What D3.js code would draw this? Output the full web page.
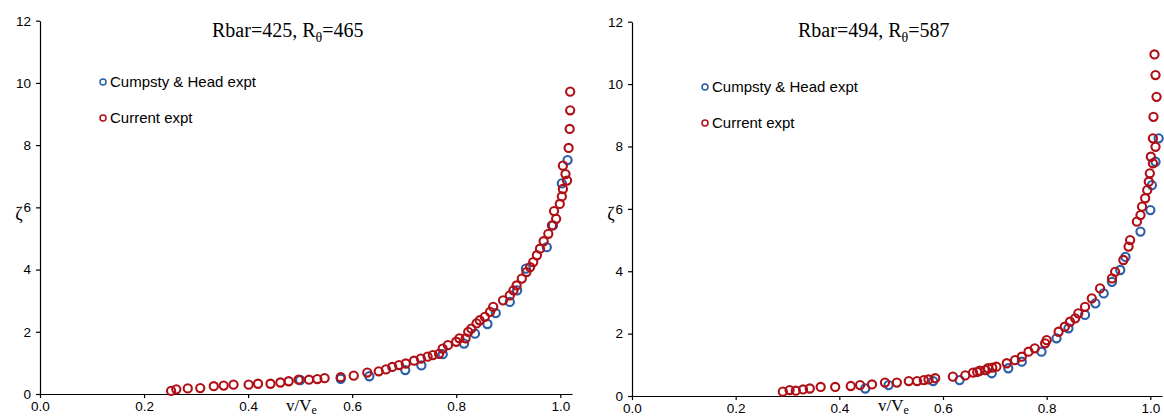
<!DOCTYPE html>
<html>
<head>
<meta charset="utf-8">
<script src="https://d3js.org/d3.v7.min.js"></script>
<style>
  body { margin: 0; background: #fff; }
  .tick text { font-family: Arial, "Liberation Sans", sans-serif; font-size: 13.5px; fill: #000; }
  .legend { font-family: Arial, "Liberation Sans", sans-serif; font-size: 15px; fill: #000; }
  .serif { font-family: "Times New Roman", "Liberation Serif", serif; fill: #000; }
</style>
</head>
<body>
<svg id="chart" width="1164" height="418"></svg>
<script>
  // x ticks / y ticks shared by both panels
  const xTicks = [0, 0.2, 0.4, 0.6, 0.8, 1.0];
  const yTicks = [0, 2, 4, 6, 8, 10, 12];
  const seriesNames = ["Cumpsty & Head expt", "Current expt"];

  // left panel: Rbar=425, Rθ=465
  const leftBlueV = [0.5, 0.578, 0.633, 0.702, 0.733, 0.774, 0.815, 0.836, 0.86, 0.876, 0.903, 0.917, 0.934, 0.974, 0.986, 1.003, 1.014];
  const leftBlueZ = [0.45, 0.49, 0.57, 0.77, 0.92, 1.28, 1.62, 1.94, 2.25, 2.6, 2.96, 3.33, 4.03, 4.72, 5.42, 6.77, 7.52];
  const leftRedV = [0.252, 0.262, 0.284, 0.308, 0.334, 0.353, 0.372, 0.401, 0.419, 0.443, 0.462, 0.478, 0.497, 0.517, 0.533, 0.547, 0.578, 0.603, 0.629, 0.651, 0.665, 0.677, 0.69, 0.703, 0.719, 0.732, 0.745, 0.755, 0.767, 0.774, 0.784, 0.8, 0.806, 0.818, 0.823, 0.829, 0.839, 0.845, 0.855, 0.865, 0.871, 0.89, 0.903, 0.91, 0.916, 0.926, 0.935, 0.942, 0.948, 0.955, 0.961, 0.968, 0.977, 0.984, 0.992, 0.988, 0.999, 1.003, 1.005, 1.013, 1.01, 1.005, 1.016, 1.018, 1.019, 1.019];
  const leftRedZ = [0.1, 0.15, 0.18, 0.19, 0.25, 0.27, 0.3, 0.3, 0.33, 0.33, 0.37, 0.41, 0.46, 0.46, 0.48, 0.51, 0.54, 0.59, 0.69, 0.73, 0.79, 0.87, 0.93, 0.98, 1.07, 1.14, 1.2, 1.25, 1.29, 1.46, 1.57, 1.68, 1.79, 1.79, 2.0, 2.1, 2.27, 2.37, 2.48, 2.64, 2.8, 3.01, 3.17, 3.33, 3.49, 3.71, 3.92, 4.08, 4.24, 4.46, 4.67, 4.91, 5.15, 5.42, 5.63, 5.88, 6.11, 6.35, 6.59, 6.86, 7.07, 7.34, 7.91, 8.52, 9.12, 9.72];

  // right panel: Rbar=494, Rθ=587
  const rightBlueV = [0.45, 0.495, 0.581, 0.632, 0.694, 0.726, 0.752, 0.79, 0.819, 0.842, 0.874, 0.894, 0.91, 0.926, 0.942, 0.952, 0.981, 1.0, 1.003, 1.01, 1.016];
  const rightBlueZ = [0.24, 0.35, 0.48, 0.51, 0.73, 0.89, 1.1, 1.42, 1.85, 2.17, 2.6, 2.97, 3.29, 3.66, 4.04, 4.46, 5.27, 5.96, 6.76, 7.51, 8.26];
  const rightRedV = [0.291, 0.304, 0.316, 0.33, 0.343, 0.364, 0.392, 0.422, 0.44, 0.463, 0.488, 0.511, 0.534, 0.55, 0.563, 0.572, 0.585, 0.619, 0.643, 0.658, 0.666, 0.671, 0.682, 0.687, 0.695, 0.703, 0.723, 0.739, 0.752, 0.765, 0.777, 0.797, 0.8, 0.823, 0.835, 0.845, 0.855, 0.861, 0.874, 0.887, 0.903, 0.926, 0.932, 0.948, 0.958, 0.961, 0.974, 0.981, 0.984, 0.99, 0.994, 0.997, 0.999, 1.005, 1.001, 1.01, 1.005, 1.006, 1.012, 1.01, 1.008];
  const rightRedZ = [0.14, 0.19, 0.17, 0.21, 0.24, 0.29, 0.29, 0.32, 0.35, 0.37, 0.43, 0.43, 0.48, 0.48, 0.51, 0.53, 0.57, 0.62, 0.66, 0.75, 0.77, 0.81, 0.83, 0.89, 0.91, 0.94, 1.05, 1.15, 1.26, 1.42, 1.53, 1.69, 1.79, 2.06, 2.22, 2.38, 2.49, 2.65, 2.86, 3.13, 3.45, 3.77, 3.98, 4.36, 4.79, 5.0, 5.59, 5.8, 6.07, 6.34, 6.6, 6.87, 7.14, 7.46, 7.67, 7.99, 8.26, 8.95, 9.59, 10.29, 10.95];

  const blue = "#2a5ea8";
  const red = "#b00f16";

  const svg = d3.select("#chart");

  const panels = [
    { x0: 40, x1: 572, y0: 394, y12: 20.7, rbar: "425", rth: "465", titleX: 212,
      legX: 103, legY: 82, blueV: leftBlueV, blueZ: leftBlueZ, redV: leftRedV, redZ: leftRedZ },
    { x0: 632, x1: 1162, y0: 396, y12: 21.7, rbar: "494", rth: "587", titleX: 798,
      legX: 705, legY: 87, blueV: rightBlueV, blueZ: rightBlueZ, redV: rightRedV, redZ: rightRedZ }
  ];

  panels.forEach(p => {
    const x = d3.scaleLinear().domain([0, 1.0225]).range([p.x0, p.x1]);
    const y = d3.scaleLinear().domain([0, 12]).range([p.y0, p.y12]);
    const g = svg.append("g");

    // axes
    const xAxis = g.append("g")
      .attr("transform", `translate(0,${p.y0})`)
      .call(d3.axisBottom(x).tickValues(xTicks).tickFormat(d3.format(".1f")).tickSize(4).tickSizeOuter(0));
    xAxis.selectAll("text").attr("y", 6).attr("dy", "0.78em");
    const yAxis = g.append("g")
      .attr("transform", `translate(${p.x0},0)`)
      .call(d3.axisLeft(y).tickValues(yTicks).tickSize(4).tickSizeOuter(0));
    yAxis.selectAll("text").attr("x", -9);
    g.selectAll(".domain, .tick line").attr("stroke", "#000").attr("stroke-width", 1.2);

    // points (blue under red)
    const blueData = p.blueV.map((v, i) => [v, p.blueZ[i]]);
    const redData = p.redV.map((v, i) => [v, p.redZ[i]]);
    g.append("g").selectAll("circle").data(blueData).enter().append("circle")
      .attr("cx", d => x(d[0])).attr("cy", d => y(d[1])).attr("r", 4.1)
      .attr("fill", "none").attr("stroke", blue).attr("stroke-width", 2.1);
    g.append("g").selectAll("circle").data(redData).enter().append("circle")
      .attr("cx", d => x(d[0])).attr("cy", d => y(d[1])).attr("r", 4.1)
      .attr("fill", "none").attr("stroke", red).attr("stroke-width", 2.1);

    // title
    const t = g.append("text").attr("class", "serif").attr("x", p.titleX).attr("y", 37).style("font-size", "20px");
    t.append("tspan").text("Rbar=" + p.rbar + ", R");
    t.append("tspan").attr("dy", 5).style("font-size", "14px").text("θ");
    t.append("tspan").attr("dy", -5).text("=" + p.rth);

    // axis titles
    g.append("text").attr("class", "serif").attr("x", p.x0 - 21).attr("y", 220)
      .attr("text-anchor", "middle").style("font-size", "18px").text("ζ");
    const xl = g.append("text").attr("class", "serif").attr("x", p.x0 + 246).attr("y", 411).style("font-size", "17px");
    xl.append("tspan").text("v/V");
    xl.append("tspan").attr("dy", 3).style("font-size", "12px").text("e");

    // legend
    [blue, red].forEach((c, i) => {
      const ly = p.legY + i * 36;
      g.append("circle").attr("cx", p.legX).attr("cy", ly).attr("r", 3)
        .attr("fill", "none").attr("stroke", c).attr("stroke-width", 1.5);
      g.append("text").attr("class", "legend").attr("x", p.legX + 7).attr("y", ly + 5).text(seriesNames[i]);
    });
  });
</script>
</body>
</html>
